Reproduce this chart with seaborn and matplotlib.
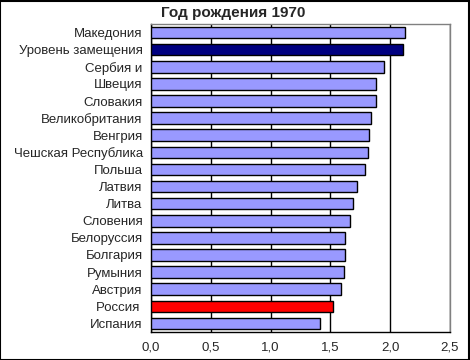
import numpy as np
import matplotlib.pyplot as plt
import pandas as pd
import seaborn as sns

# data
countries = ['Македония', 'Уровень замещения', 'Сербия и', 'Швеция', 'Словакия',
             'Великобритания', 'Венгрия', 'Чешская Республика', 'Польша', 'Латвия',
             'Литва', 'Словения', 'Белоруссия', 'Болгария', 'Румыния', 'Австрия',
             'Россия ', 'Испания']
values = [2.12, 2.11, 1.95, 1.885, 1.885, 1.84, 1.82, 1.815, 1.79, 1.72,
          1.69, 1.66, 1.62, 1.62, 1.61, 1.585, 1.52, 1.41]
xticks = [0.0, 0.5, 1.0, 1.5, 2.0, 2.5]

df = pd.DataFrame({'country': countries, 'value': values})

# colours: replacement level dark blue, Russia red, rest lilac
cols = []
for c in countries:
    if c.startswith('Уровень'):
        cols.append('#000080')
    elif c.startswith('Россия'):
        cols.append('#FF0000')
    else:
        cols.append('#9999FF')

sns.set_style('white')
plt.rcParams['font.family'] = ['Liberation Sans', 'DejaVu Sans']

fig = plt.figure(figsize=(4.7, 3.6), dpi=100)
ax = fig.add_axes([151 / 470, 1 - 332 / 360, 299 / 470, 308 / 360])

sns.barplot(data=df, x='value', y='country', hue='country', palette=cols,
            orient='h', width=0.68, edgecolor='black', linewidth=1,
            saturation=1, legend=False, ax=ax, zorder=3)

ax.set_xlim(0, 2.5)
ax.set_ylim(len(countries) - 0.5, -0.5)
ax.set_xticks(xticks)
ax.set_xticklabels([f'{t:.1f}'.replace('.', ',') for t in xticks], fontsize=9.5)
ax.set_xlabel('')
ax.set_ylabel('')
ax.tick_params(axis='y', labelsize=9.5, length=0, pad=6)
ax.tick_params(axis='x', length=4, width=1, color='black', direction='out', pad=3)

# y tick marks between categories
ax.set_yticks(np.arange(-0.5, len(countries), 1), minor=True)
ax.tick_params(axis='y', which='minor', length=4, width=1, color='black', direction='out')

ax.grid(axis='x', color='black', linewidth=1, zorder=0)
ax.set_axisbelow(True)
for s in ['left', 'bottom']:
    ax.spines[s].set_color('black')
    ax.spines[s].set_linewidth(1)
for s in ['top', 'right']:
    ax.spines[s].set_color('#808080')
    ax.spines[s].set_linewidth(1)

fig.text(233 / 470, 1 - 13 / 360, 'Год рождения 1970', ha='center', va='center',
         fontsize=11, fontweight='bold')

# outer frame
fig.patches.append(plt.Rectangle((0.001, 0.001), 0.997, 0.996, transform=fig.transFigure,
                                 fill=False, edgecolor='black', linewidth=1.5))

fig.savefig('out.png', dpi=100)
